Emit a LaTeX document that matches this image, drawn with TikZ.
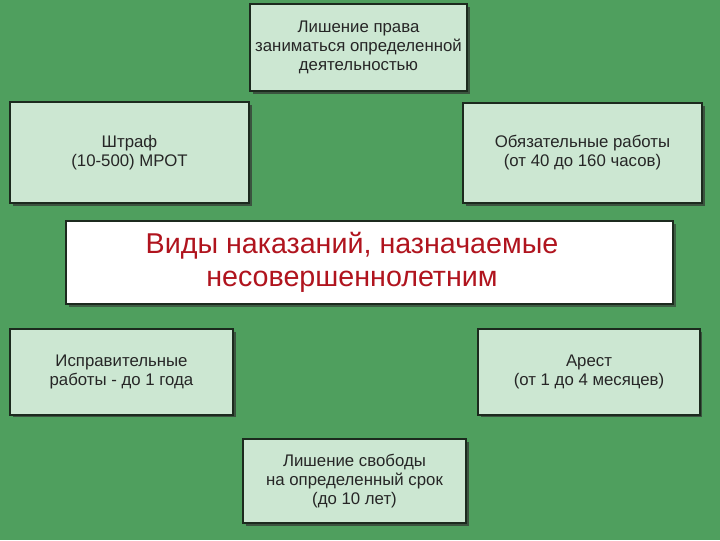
\documentclass[tikz,border=0pt]{standalone}
\usepackage{fontspec}
\setmainfont{Liberation Sans}
\usetikzlibrary{shadows}
\definecolor{bggreen}{HTML}{4F9F5E}
\definecolor{boxfill}{HTML}{CCE7D2}
\definecolor{boxline}{HTML}{1C2A1E}
\definecolor{titlered}{HTML}{B0141E}
\tikzset{
  px/.style={x=0.75pt,y=-0.75pt},
  pbox/.style={draw=boxline, line width=1.4pt, fill=boxfill, align=center,
    font=\fontsize{12.6}{14.3}\selectfont, text=black!85, inner sep=0pt,
    drop shadow={shadow xshift=2pt, shadow yshift=-2pt, fill=black!80, opacity=0.7}},
  titlebox/.style={draw=boxline, line width=1.2pt, fill=white, inner sep=0pt,
    drop shadow={shadow xshift=2pt, shadow yshift=-2pt, fill=black!80, opacity=0.6}},
  titletext/.style={align=center, font=\fontsize{21.5}{25}\selectfont, text=titlered, inner sep=0pt}
}
\begin{document}
\begin{tikzpicture}[px]
\fill[bggreen] (0,0) rectangle (720,540);
\useasboundingbox (0,0) rectangle (720,540);
\node[pbox, minimum width=163pt, minimum height=65pt] (prava) at (358.5,47.5)
  {Лишение права\\заниматься определенной\\деятельностью};
\node[pbox, minimum width=179pt, minimum height=76pt] (shtraf) at (129.5,152.5)
  {Штраф\\(10-500) МРОТ};
\node[pbox, minimum width=179pt, minimum height=75pt] (obyaz) at (582.5,153)
  {Обязательные работы\\(от 40 до 160 часов)};
\node[titlebox, minimum width=455pt, minimum height=62pt] (title) at (369.5,262.5) {};
\node[titletext] (titlelbl) at (352,262.5)
  {Виды наказаний, назначаемые\\несовершеннолетним};
\node[pbox, minimum width=167pt, minimum height=64pt] (ispr) at (121.5,372)
  {Исправительные\\работы - до 1 года};
\node[pbox, minimum width=166pt, minimum height=64pt] (arest) at (589,372)
  {Арест\\(от 1 до 4 месяцев)};
\node[pbox, minimum width=167pt, minimum height=63pt] (svoboda) at (354.5,481)
  {Лишение свободы\\на определенный срок\\(до 10 лет)};
\end{tikzpicture}
\end{document}
